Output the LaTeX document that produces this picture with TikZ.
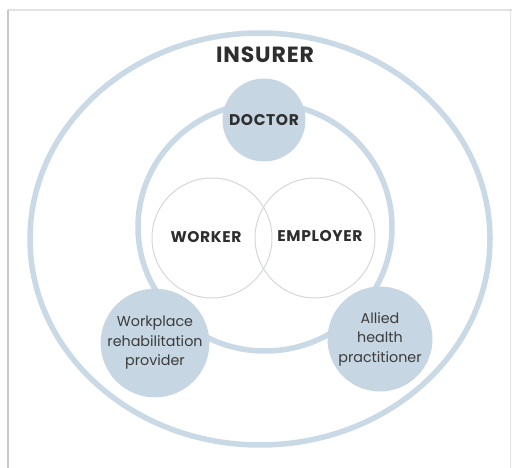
\documentclass[tikz,border=0pt]{standalone}
\usepackage{fontspec}
\setmainfont{Poppins}
\usetikzlibrary{shapes.geometric}
\definecolor{ringblue}{HTML}{C9D9E5}
\definecolor{fillblue}{HTML}{C6D6E3}
\definecolor{txt}{HTML}{2E2E2E}
\definecolor{soft}{HTML}{3C3C3C}
\definecolor{venn}{HTML}{D3D8DC}
\definecolor{frame}{HTML}{E2E2E2}
\newcommand{\capsfont}[1]{\fontsize{#1}{#1}\selectfont\bfseries\addfontfeatures{LetterSpace=4}}
\tikzset{
  bigring/.style={ellipse, draw=ringblue, line width=5.5pt, inner sep=0pt},
  role/.style={circle, fill=fillblue, inner sep=0pt, minimum size=#1, align=center,
    text=soft, font=\fontsize{14.3}{19.5}\selectfont},
  party/.style={circle, draw=venn, line width=1pt, inner sep=0pt, minimum size=120pt},
  capslbl/.style={text=txt, font=\capsfont{#1}, inner sep=0pt}
}
\begin{document}
\begin{tikzpicture}[x=1pt,y=-1pt]
\useasboundingbox (0,0) rectangle (512,468);
\fill[white] (0,0) rectangle (512,468);
% frame
\draw[frame, line width=1.5pt] (8,10) -- (512,10);
\draw[black!22, line width=2pt] (8,10) -- (8,468);
\draw[frame, line width=0.8pt] (510.5,10) -- (510.5,468);
% rings
\node[bigring, minimum width=460pt, minimum height=412pt] (insurer) at (260,239) {};
\node[bigring, line width=5.5pt, minimum width=254pt, minimum height=248pt] (ring) at (265,227) {};
% Venn
\node[party] (worker) at (212,238) {};
\node[party] (employer) at (315,238) {};
\node[capslbl=15.5] (workertxt) at (206,237) {WORKER};
\node[capslbl=15.5] (employertxt) at (320,236) {EMPLOYER};
% roles
\node[role=83pt, text=txt, font=\capsfont{15.5}] (doctor) at (264,120) {DOCTOR};
\node[role=106pt] (wrp) at (155,343) {Workplace\\rehabilitation\\provider};
\node[role=105pt] (ahp) at (380,339) {Allied\\health\\practitioner};
\node[capslbl=22] (ins) at (265,55) {INSURER};
\end{tikzpicture}
\end{document}
